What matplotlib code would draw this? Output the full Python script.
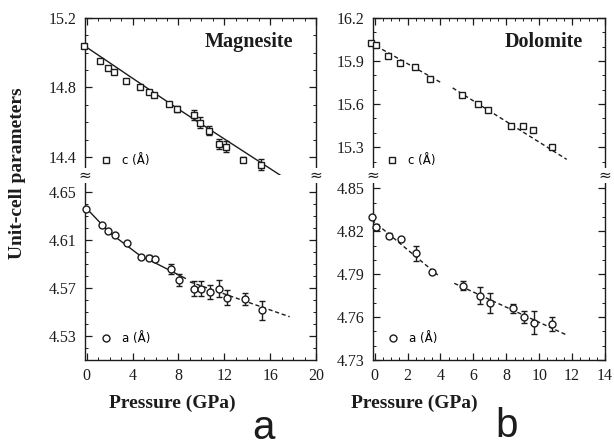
import numpy as np
import matplotlib
matplotlib.use("Agg")
import matplotlib.pyplot as plt
from matplotlib.lines import Line2D
from matplotlib.ticker import MultipleLocator

plt.rcParams['font.family'] = ['Liberation Serif', 'DejaVu Serif']
INK = '#1c1c1c'

# ---- Magnesite (panel a) ----
mg_c_p = [-0.2, 1.18, 1.82, 2.4, 3.46, 4.62, 5.43, 5.86, 7.2, 7.88, 9.32, 9.9, 10.7, 11.54, 12.15, 13.65, 15.2]
mg_c = [15.04, 14.954, 14.912, 14.889, 14.839, 14.801, 14.772, 14.755, 14.705, 14.676, 14.642, 14.598,
        14.551, 14.473, 14.459, 14.383, 14.356]
mg_c_err = [0, 0, 0, 0, 0, 0, 0, 0, 0.012, 0.02, 0.03, 0.03, 0.025, 0.03, 0.03, 0.015, 0.03]
mg_c_fit_p = [-0.2, 8.0, 17.0]
mg_c_fit = [15.04, 14.675, 14.29]

mg_a_p = [-0.09, 1.3, 1.82, 2.51, 3.55, 4.76, 5.45, 5.97, 7.36, 8.08, 9.38, 9.96, 10.76, 11.57, 12.27, 13.8, 15.3]
mg_a = [4.636, 4.622, 4.6175, 4.614, 4.607, 4.596, 4.595, 4.594, 4.586, 4.577, 4.5695, 4.5695,
        4.5667, 4.5695, 4.562, 4.561, 4.5514]
mg_a_err = [0, 0, 0, 0, 0, 0, 0.002, 0.002, 0.004, 0.005, 0.006, 0.006, 0.006, 0.007, 0.006, 0.005, 0.008]
mg_a_fit1_p = [-0.2, 2.0, 4.5, 8.6]
mg_a_fit1 = [4.638, 4.616, 4.598, 4.578]
mg_a_fit2_p = [9.0, 17.7]
mg_a_fit2 = [4.575, 4.546]

# ---- Dolomite (panel b) ----
do_c_p = [-0.24, 0.06, 0.82, 1.55, 2.43, 3.35, 5.28, 6.29, 6.9, 8.3, 9.0, 9.6, 10.76]
do_c = [16.025, 16.011, 15.937, 15.884, 15.861, 15.773, 15.665, 15.602, 15.556, 15.445, 15.445, 15.418, 15.302]
do_c_fit1_p = [-0.28, 4.0]
do_c_fit1 = [16.029, 15.752]
do_c_fit2_p = [4.74, 11.67]
do_c_fit2 = [15.713, 15.215]

do_a_p = [-0.18, 0.06, 0.88, 1.59, 2.53, 3.49, 5.38, 6.39, 6.99, 8.39, 9.1, 9.7, 10.8]
do_a = [4.830, 4.823, 4.817, 4.8143, 4.8045, 4.7915, 4.782, 4.775, 4.770, 4.766, 4.760, 4.756, 4.755]
do_a_err = [0, 0.002, 0.002, 0, 0.005, 0.001, 0.003, 0.006, 0.007, 0.003, 0.004, 0.008, 0.005]
do_a_fit1_p = [-0.18, 3.84]
do_a_fit1 = [4.828, 4.7894]
do_a_fit2_p = [4.84, 11.67]
do_a_fit2 = [4.7836, 4.7475]

W, H = 614, 446
fig = plt.figure(figsize=(W / 100, H / 100), dpi=100)


def box(x0, x1, y0, y1):
    return [x0 / W, 1 - y1 / H, (x1 - x0) / W, (y1 - y0) / H]


def style(ax, top, bottom):
    ax.tick_params(which='both', direction='in', top=True, right=True, colors=INK,
                   labelsize=11.5, pad=6)
    ax.tick_params(which='major', length=5, width=0.9)
    ax.tick_params(which='minor', length=2.5, width=0.7)
    for s in ax.spines.values():
        s.set_color(INK)
        s.set_linewidth(1.0)
    if top:
        ax.spines['bottom'].set_visible(False)
        ax.tick_params(which='both', bottom=False, labelbottom=False)
    if bottom:
        ax.spines['top'].set_visible(False)
        ax.tick_params(which='both', top=False)


def points(ax, p, v, err, marker):
    p, v, err = np.array(p), np.array(v), np.array(err)
    m = err > 0
    if m.any():
        eb = ax.errorbar(p[m], v[m], yerr=err[m], fmt='none', ecolor=INK, elinewidth=1.0,
                         capsize=2.5, capthick=1.0, zorder=3)
        for art in eb.lines[1] + eb.lines[2]:
            art.set_clip_on(False)
    ax.plot(p, v, ls='none', marker=marker, ms=5, mfc='white', mec=INK, mew=1.0, zorder=4,
            clip_on=False)


def key(ax, marker, label, xy):
    h = Line2D([], [], ls='none', marker=marker, ms=5, mfc='white', mec=INK, mew=1.0)
    ax.legend([h], [label], loc='lower left', bbox_to_anchor=xy, frameon=False,
              handlelength=1.0, handletextpad=0.9, borderpad=0, borderaxespad=0,
              prop={'family': 'DejaVu Sans', 'size': 8.5})


dash = (0, (3, 2))

# panel a
a_top = fig.add_axes(box(85, 316, 18, 175))
a_bot = fig.add_axes(box(85, 316, 175, 360))
a_top.plot(mg_c_fit_p, mg_c_fit, color=INK, lw=1.0, zorder=2)
points(a_top, mg_c_p, mg_c, mg_c_err, 's')
a_bot.plot(mg_a_fit1_p, mg_a_fit1, color=INK, lw=1.0, zorder=2)
a_bot.plot(mg_a_fit2_p, mg_a_fit2, color=INK, lw=1.0, ls=dash, zorder=2)
points(a_bot, mg_a_p, mg_a, mg_a_err, 'o')
for ax in (a_top, a_bot):
    ax.set_xlim(-0.15, 20)
    ax.xaxis.set_major_locator(MultipleLocator(4))
    ax.xaxis.set_minor_locator(MultipleLocator(1))
a_top.set_ylim(14.296, 15.2)
a_top.yaxis.set_major_locator(MultipleLocator(0.4))
a_top.yaxis.set_minor_locator(MultipleLocator(0.1))
a_bot.set_ylim(4.51, 4.664)
a_bot.set_yticks([4.53, 4.57, 4.61, 4.65])
a_bot.yaxis.set_minor_locator(MultipleLocator(0.01))
style(a_top, True, False)
style(a_bot, False, True)
a_top.text(0.9, 0.85, 'Magnesite', transform=a_top.transAxes, ha='right', va='center',
           fontsize=14.5, fontweight='bold', color=INK)
key(a_top, 's', 'c (Å)', (0.065, 0.05))
key(a_bot, 'o', 'a (Å)', (0.065, 0.08))

# panel b
b_top = fig.add_axes(box(373, 605, 18, 175))
b_bot = fig.add_axes(box(373, 605, 175, 360))
b_top.plot(do_c_fit1_p, do_c_fit1, color=INK, lw=1.0, ls=dash, zorder=2)
b_top.plot(do_c_fit2_p, do_c_fit2, color=INK, lw=1.0, ls=dash, zorder=2)
points(b_top, do_c_p, do_c, [0] * len(do_c), 's')
b_bot.plot(do_a_fit1_p, do_a_fit1, color=INK, lw=1.0, ls=dash, zorder=2)
b_bot.plot(do_a_fit2_p, do_a_fit2, color=INK, lw=1.0, ls=dash, zorder=2)
points(b_bot, do_a_p, do_a, do_a_err, 'o')
for ax in (b_top, b_bot):
    ax.set_xlim(-0.1, 14)
    ax.xaxis.set_major_locator(MultipleLocator(2))
    ax.xaxis.set_minor_locator(MultipleLocator(0.5))
b_top.set_ylim(15.106, 16.2)
b_top.set_yticks([15.3, 15.6, 15.9, 16.2])
b_top.yaxis.set_minor_locator(MultipleLocator(0.1))
b_bot.set_ylim(4.73, 4.8593)
b_bot.set_yticks([4.73, 4.76, 4.79, 4.82, 4.85])
b_bot.yaxis.set_minor_locator(MultipleLocator(0.01))
style(b_top, True, False)
style(b_bot, False, True)
b_top.text(0.905, 0.85, 'Dolomite', transform=b_top.transAxes, ha='right', va='center',
           fontsize=14.5, fontweight='bold', color=INK)
key(b_top, 's', 'c (Å)', (0.055, 0.05))
key(b_bot, 'o', 'a (Å)', (0.06, 0.08))

# axis-break marks on the spines
for xpx in (85, 316, 373, 605):
    fig.text(xpx / W, 1 - 175 / H, '≈', ha='center', va='center', fontsize=11,
             color=INK, family='DejaVu Sans',
             bbox=dict(boxstyle='square,pad=0', fc='white', ec='none'))

fig.text(18 / W, 1 - 173 / H, 'Unit-cell parameters', rotation=90, ha='center', va='center',
         fontsize=14, fontweight='bold', color=INK)
fig.text(172 / W, 1 - 403 / H, 'Pressure (GPa)', ha='center', va='center',
         fontsize=14, fontweight='bold', color=INK)
fig.text(414 / W, 1 - 403 / H, 'Pressure (GPa)', ha='center', va='center',
         fontsize=14, fontweight='bold', color=INK)
fig.text(264 / W, 1 - 428 / H, 'a', ha='center', va='center', fontsize=29,
         family='Liberation Sans', color=INK)
fig.text(507 / W, 1 - 426 / H, 'b', ha='center', va='center', fontsize=29,
         family='Liberation Sans', color=INK)

fig.savefig('out.png', dpi=100)
